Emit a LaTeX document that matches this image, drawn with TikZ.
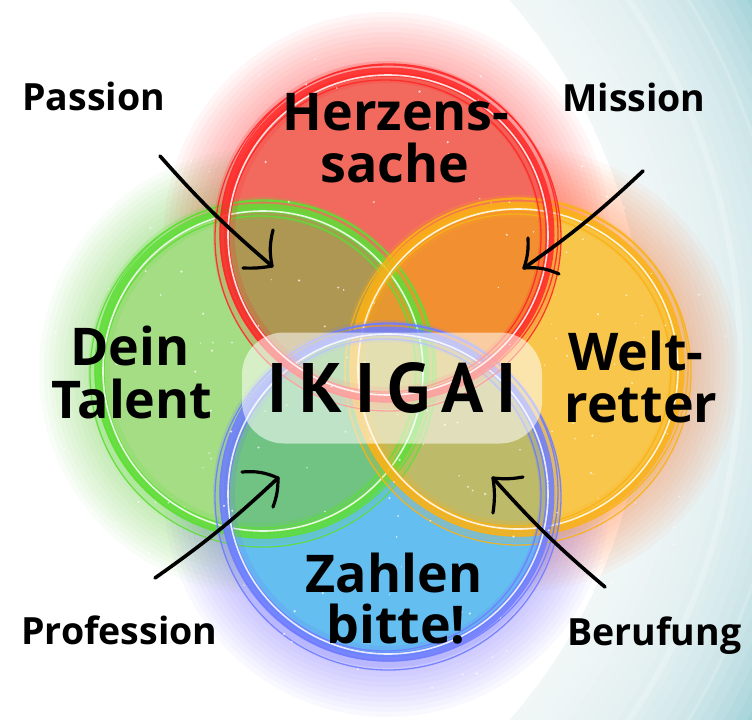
\documentclass[tikz,border=0pt]{standalone}
\usepackage{fontspec}
\setmainfont{Open Sans}
\newfontfamily\ikifont{PT Sans}
\definecolor{bgteal}{RGB}{150,205,212}
\definecolor{cred}{RGB}{255,40,40}
\definecolor{gred}{RGB}{255,70,70}
\definecolor{fred}{RGB}{242,106,94}
\definecolor{cgreen}{RGB}{95,222,55}
\definecolor{ggreen}{RGB}{110,215,70}
\definecolor{fgreen}{RGB}{165,221,132}
\definecolor{corange}{RGB}{250,178,22}
\definecolor{gorange}{RGB}{255,120,50}
\definecolor{forange}{RGB}{248,198,74}
\definecolor{cblue}{RGB}{110,125,255}
\definecolor{gblue}{RGB}{130,115,255}
\definecolor{fblue}{RGB}{100,190,240}
\definecolor{oRG}{RGB}{162,160,82}
\definecolor{oRO}{RGB}{242,150,42}
\definecolor{oGB}{RGB}{115,196,112}
\definecolor{oOB}{RGB}{205,186,82}
\definecolor{oGO}{RGB}{195,175,85}
\definecolor{oRB}{RGB}{215,150,160}
\begin{document}
\begin{tikzpicture}[x=1pt,y=-1pt,
  bigl/.style={font=\bfseries\fontsize{52}{52}\selectfont, inner sep=0pt, anchor=base},
  smalll/.style={font=\bfseries\fontsize{37.5}{37.5}\selectfont, inner sep=0pt, anchor=base west},
  arrowline/.style={line width=3.6pt, line cap=round, black},
  barbline/.style={line width=3.2pt, line cap=round, black},
  ringband/.style={line width=9pt, opacity=0.85},
  ringthin/.style={line width=1.3pt, opacity=0.9},
  ringcore/.style={white, line width=1.6pt, opacity=0.85}]
\useasboundingbox (0,0) rectangle (752,720);
\def\R{163pt}
% background
\begin{scope}
\clip (0,0) rectangle (752,720);
\fill[bgteal] (0,0) rectangle (752,720);
\foreach \rad in {750,740,...,550}{
  \fill[white, opacity=0.11] (100,360) circle[radius={\rad*1pt}];
}
\fill[white] (100,360) circle[radius=545pt];
\draw[white, opacity=0.22, line width=6pt] (100,360) circle[radius=640pt];
\draw[white, opacity=0.18, line width=3pt] (100,360) circle[radius=690pt];
\end{scope}
\coordinate (cR) at (387,235);
\coordinate (cG) at (262,371);
\coordinate (cO) at (517,369);
\coordinate (cB) at (387,494);
% glows
\foreach \c/\col in {cG/ggreen, cO/gorange, cB/gblue, cR/gred}{
  \foreach \d in {0,5,...,60}{
    \fill[\col, opacity=0.045] (\c) circle[radius={(163+\d)*1pt}];
  }
}
% fills
\fill[fgreen] (cG) circle[radius=\R];
\fill[forange] (cO) circle[radius=\R];
\fill[fblue] (cB) circle[radius=\R];
\fill[fred] (cR) circle[radius=\R];
% overlaps
\begin{scope}\clip (cG) circle[radius=\R]; \fill[oGO] (cO) circle[radius=\R];\end{scope}
\begin{scope}\clip (cR) circle[radius=\R]; \fill[oRB] (cB) circle[radius=\R];\end{scope}
\begin{scope}\clip (cR) circle[radius=\R]; \fill[oRG, opacity=0.85] (cG) circle[radius=\R];\end{scope}
\begin{scope}\clip (cR) circle[radius=\R]; \fill[oRO, opacity=0.85] (cO) circle[radius=\R];\end{scope}
\begin{scope}\clip (cB) circle[radius=\R]; \fill[oGB, opacity=0.85] (cG) circle[radius=\R];\end{scope}
\begin{scope}\clip (cB) circle[radius=\R]; \fill[oOB, opacity=0.85] (cO) circle[radius=\R];\end{scope}
% rings
\foreach \c/\col in {cG/cgreen, cO/corange, cB/cblue, cR/cred}{
  \draw[\col, line width=22pt, opacity=0.18] (\c) circle[radius=\R];
  \draw[\col, ringband] (\c) circle[radius=\R];
  \draw[\col, ringthin] ([shift={(2,-2)}]\c) circle[radius=169pt];
  \draw[\col, ringthin] ([shift={(-2,1)}]\c) circle[radius=156pt];
  \draw[\col, ringthin] ([shift={(1,3)}]\c) circle[radius=173pt];
  \draw[ringcore] ([shift={(1,0)}]\c) circle[radius=160pt];
}
% sparkles
\pgfmathsetseed{42}
\foreach \i in {1,...,170}{
  \pgfmathsetmacro{\aa}{360*rnd}
  \pgfmathsetmacro{\rr}{340*sqrt(rnd)}
  \pgfmathsetmacro{\ss}{0.6+0.7*rnd}
  \fill[white, opacity=0.7] ({390+\rr*cos(\aa)},{372+\rr*sin(\aa)}) circle[radius=\ss pt];
}
% IKIGAI box
\node[fill=white, fill opacity=0.55, text opacity=1, rounded corners=42pt,
      minimum width=300pt, minimum height=111pt, inner sep=0pt,
      font=\ikifont\bfseries\fontsize{70}{70}\selectfont] (iki) at (392,388)
      {I\kern12pt K\kern12pt I\kern12pt G\kern12pt A\kern12pt I};
% big labels
\node[bigl] (herz1) at (396,130) {Herzens-};
\node[bigl] (herz2) at (395,182) {sache};
\node[bigl] (dein1) at (130,365) {Dein};
\node[bigl] (dein2) at (132,418) {Talent};
\node[bigl] (welt1) at (636,370) {Welt-};
\node[bigl] (welt2) at (641,422) {retter};
\node[bigl] (zahl1) at (394,592) {Zahlen};
\node[bigl] (zahl2) at (396,643) {bitte!};
% small labels
\node[smalll] (pas) at (22,110) {Passion};
\node[smalll] (mis) at (562,111) {Mission};
\node[smalll] (pro) at (21,644) {Profession};
\node[smalll] (ber) at (567,645) {Berufung};
% arrows
\coordinate (pasS) at (160,156); \coordinate (pasT) at (272,266);
\coordinate (pasB1) at (273,230); \coordinate (pasB2) at (243,268);
\draw[arrowline] (pasS) to[bend right=4] (pasT);
\draw[barbline] (pasB1) to[bend right=12] (pasT);
\draw[barbline] (pasB2) to[bend right=6] (pasT);
\coordinate (misS) at (643,171); \coordinate (misT) at (524,268);
\coordinate (misB1) at (528,238); \coordinate (misB2) at (559,274);
\draw[arrowline] (misS) to[bend left=4] (misT);
\draw[barbline] (misB1) to[bend left=10] (misT);
\draw[barbline] (misB2) to[bend right=14] (misT);
\coordinate (proS) at (155,578); \coordinate (proT) at (278,478);
\coordinate (proB1) at (242,472); \coordinate (proB2) at (273,507);
\draw[arrowline] (proS) to[bend right=4] (proT);
\draw[barbline] (proB1) to[bend left=14] (proT);
\draw[barbline] (proB2) to[bend right=10] (proT);
\coordinate (berS) at (605,587); \coordinate (berT) at (493,478);
\coordinate (berB1) at (523,477); \coordinate (berB2) at (493,513);
\draw[arrowline] (berS) to[bend left=4] (berT);
\draw[barbline] (berB1) to[bend left=8] (berT);
\draw[barbline] (berB2) to[bend right=8] (berT);
\end{tikzpicture}
\end{document}
